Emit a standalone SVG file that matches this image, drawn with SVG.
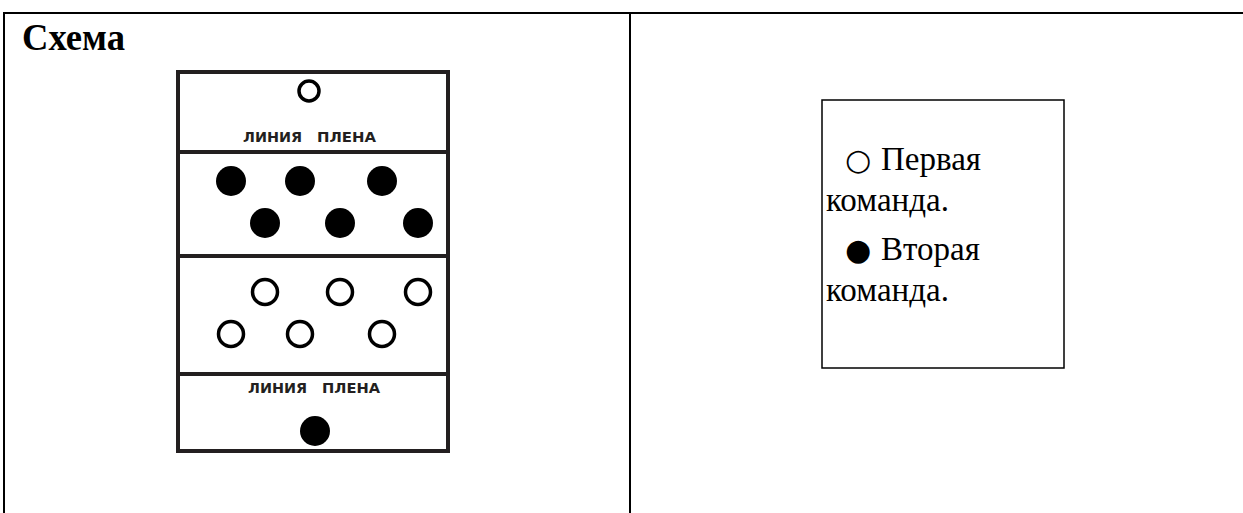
<svg xmlns="http://www.w3.org/2000/svg" width="1243" height="513" viewBox="0 0 1243 513">
<style>
.tbl{stroke:#000;stroke-width:2;fill:none}
.fld{stroke:#231f20;stroke-width:4;fill:none}
.lbl{font-family:"DejaVu Sans","Liberation Sans",sans-serif;font-weight:bold;font-size:14px;fill:#231f20}
.blk{fill:#000}
.opn{fill:#fff;stroke:#000;stroke-width:3.5}
.leg{font-family:"Liberation Serif",serif;font-size:33px;fill:#000}
.sym{font-family:"DejaVu Sans",sans-serif;font-size:30px}
</style>
<rect width="1243" height="513" fill="#fff"/>
<g id="table">
<line class="tbl" x1="3" y1="13" x2="1243" y2="13"/>
<line class="tbl" x1="4" y1="12" x2="4" y2="513"/>
<line class="tbl" x1="630" y1="12" x2="630" y2="513"/>
<text x="22" y="50" font-family="Liberation Serif,serif" font-weight="bold" font-size="38" textLength="103" lengthAdjust="spacingAndGlyphs">Схема</text>
</g>
<g id="field">
<rect class="fld" x="178" y="72" width="270" height="379"/>
<line class="fld" x1="178" y1="152" x2="448" y2="152"/>
<line class="fld" x1="178" y1="256" x2="448" y2="256"/>
<line class="fld" x1="178" y1="374" x2="448" y2="374"/>
<text class="lbl" x="243" y="142" textLength="59" lengthAdjust="spacingAndGlyphs">ЛИНИЯ</text>
<text class="lbl" x="317" y="142" textLength="59" lengthAdjust="spacingAndGlyphs">ПЛЕНА</text>
<text class="lbl" x="248" y="393" textLength="59" lengthAdjust="spacingAndGlyphs">ЛИНИЯ</text>
<text class="lbl" x="322" y="393" textLength="58" lengthAdjust="spacingAndGlyphs">ПЛЕНА</text>
</g>
<g id="team1">
<circle class="opn" cx="309" cy="91" r="10"/>
<circle class="opn" cx="265" cy="292" r="12.5"/>
<circle class="opn" cx="340" cy="292" r="12.5"/>
<circle class="opn" cx="418" cy="292" r="12.5"/>
<circle class="opn" cx="231" cy="334" r="12.5"/>
<circle class="opn" cx="300" cy="334" r="12.5"/>
<circle class="opn" cx="382" cy="334" r="12.5"/>
</g>
<g id="team2">
<circle class="blk" cx="231" cy="181" r="15"/>
<circle class="blk" cx="300" cy="181" r="15"/>
<circle class="blk" cx="382" cy="181" r="15"/>
<circle class="blk" cx="265" cy="223" r="15"/>
<circle class="blk" cx="340" cy="223" r="15"/>
<circle class="blk" cx="418" cy="223" r="15"/>
<circle class="blk" cx="315" cy="431" r="15"/>
</g>
<g id="legend">
<rect x="822" y="100" width="242" height="268" fill="#fff" stroke="#000" stroke-width="1.5"/>
<text class="leg" x="845" y="170"><tspan class="sym">○</tspan><tspan x="881">Первая</tspan></text>
<text class="leg" x="826" y="211">команда.</text>
<text class="leg" x="845" y="260"><tspan class="sym">●</tspan><tspan x="881">Вторая</tspan></text>
<text class="leg" x="826" y="301">команда.</text>
</g>
</svg>
